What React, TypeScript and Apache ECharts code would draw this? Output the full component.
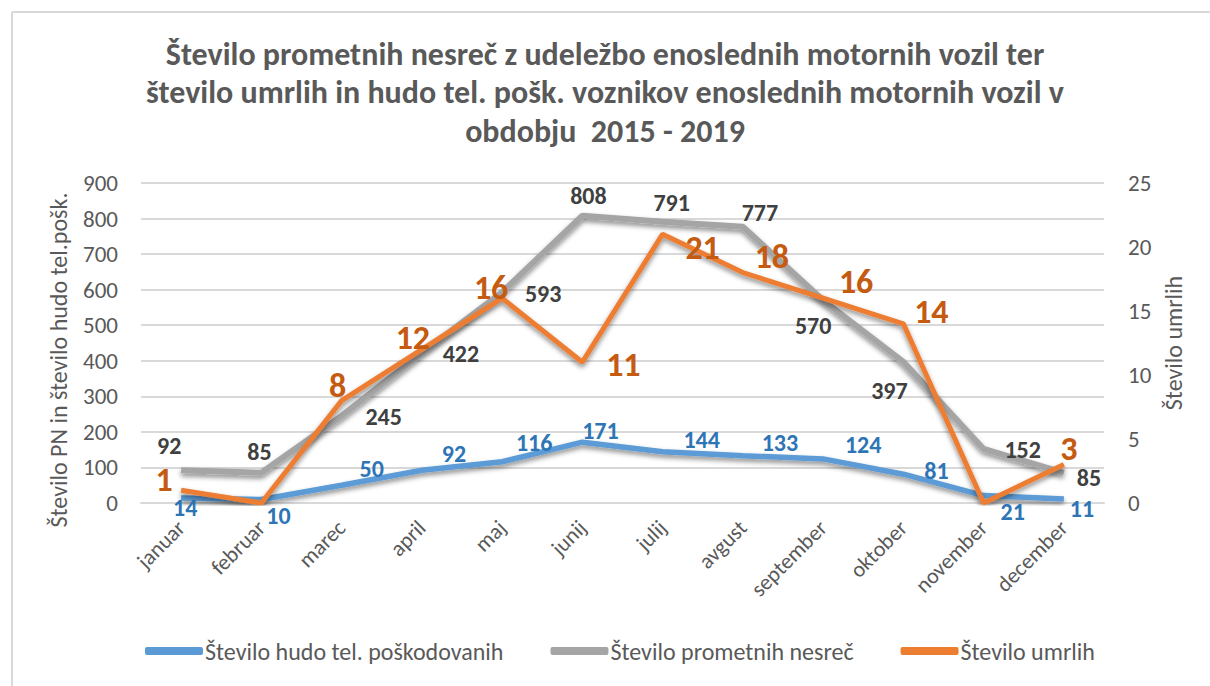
import React, { useEffect, useRef } from "react";
import * as echarts from "echarts";

const categories = ["januar", "februar", "marec", "april", "maj", "junij", "julij", "avgust", "september", "oktober", "november", "december"];
const injuredValues = [14, 10, 50, 92, 116, 171, 144, 133, 124, 81, 21, 11];
const accidentValues = [92, 85, 245, 422, 593, 808, 791, 777, 570, 397, 152, 85];
const deathValues = [1, 0, 8, 12, 16, 11, 21, 18, 16, 14, 0, 3];
const leftTicks = { min: 0, max: 900, interval: 100 };
const rightTicks = { min: 0, max: 25, interval: 5 };

const seriesNames = ["Število hudo tel. poškodovanih", "Število prometnih nesreč", "Število umrlih"];
const titleText = "Število prometnih nesreč z udeležbo enoslednih motornih vozil ter\nštevilo umrlih in hudo tel. pošk. voznikov enoslednih motornih vozil v\nobdobju  2015 - 2019";
const leftAxisName = "Število PN in število hudo tel.pošk.";
const rightAxisName = "Število umrlih";

// label offsets (dx, dy) from the point, layout only
const injuredOffsets = [[4, 9], [17, 16], [30, -17], [32, -17], [32, -19], [18, -12], [39, -12], [37, -13], [40, -14], [33, -4], [29, 16], [18, 9]];
const accidentOffsets = [[-12, -25], [-2, -21], [42, 1], [39, 1], [41, 1], [6, -20], [9, -19], [17, -14], [-10, 25], [-14, 29], [39, 1], [25, 5]];
const deathOffsets = [[-17, -11], [0, 0], [-4, -15], [-9, -12], [-11, -11], [41, 2], [40, 13], [29, -16], [33, -17], [28, -12], [0, 0], [5, -16]];

const FONT = "Carlito, 'Liberation Sans', Arial, sans-serif";

function makeData(values: number[], offsets: number[][], hideZero: boolean) {
  return values.map((v, i) => ({
    value: v,
    label: {
      show: !(hideZero && v === 0),
      position: "inside",
      offset: offsets[i],
    },
  }));
}

export default function App() {
  const ref = useRef<HTMLDivElement>(null);
  useEffect(() => {
    if (!ref.current) return;
    const chart = echarts.init(ref.current, undefined, { renderer: "svg" });
    const shadow = { shadowColor: "rgba(0,0,0,0.45)", shadowBlur: 5, shadowOffsetY: 3 };
    chart.setOption({
      animation: false,
      backgroundColor: "#ffffff",
      textStyle: { fontFamily: FONT },
      title: {
        text: titleText,
        left: "center",
        top: 30,
        textStyle: { fontFamily: FONT, fontSize: 32, fontWeight: "bold", color: "#595959", lineHeight: 38.5 },
      },
      graphic: [
        { type: "line", shape: { x1: 12, y1: 12, x2: 1210, y2: 12 }, style: { stroke: "#D9D9D9", lineWidth: 2 } },
        { type: "line", shape: { x1: 12, y1: 12, x2: 12, y2: 686 }, style: { stroke: "#D9D9D9", lineWidth: 2 } },
        {
          type: "text", x: 58, y: 360, rotation: Math.PI / 2,
          style: { text: leftAxisName, fill: "#595959", font: `24px ${FONT}`, align: "center", verticalAlign: "middle" },
        },
        {
          type: "text", x: 1173, y: 343, rotation: Math.PI / 2,
          style: { text: rightAxisName, fill: "#595959", font: `24px ${FONT}`, align: "center", verticalAlign: "middle" },
        },
      ],
      legend: {
        bottom: 18,
        left: 140,
        itemWidth: 58,
        itemHeight: 8,
        itemGap: 47,
        icon: "roundRect",
        textStyle: { fontFamily: FONT, fontSize: 24, color: "#595959", padding: [0, 0, 0, -3] },
        data: seriesNames,
      },
      grid: { left: 141, right: 106, top: 183, bottom: 183 },
      xAxis: {
        type: "category",
        data: categories,
        boundaryGap: true,
        axisLine: { show: true, lineStyle: { color: "#D9D9D9", width: 2 } },
        axisTick: { show: false },
        axisLabel: { rotate: 45, color: "#595959", fontSize: 22, fontFamily: FONT, margin: 21, interval: 0 },
      },
      yAxis: [
        {
          type: "value",
          ...leftTicks,
          axisLine: { show: false },
          axisTick: { show: false },
          splitLine: { lineStyle: { color: "#D9D9D9", width: 2 } },
          axisLabel: { color: "#595959", fontSize: 23, fontFamily: FONT, margin: 23 },
        },
        {
          type: "value",
          ...rightTicks,
          axisLine: { show: false },
          axisTick: { show: false },
          splitLine: { show: false },
          axisLabel: { color: "#595959", fontSize: 23, fontFamily: FONT, margin: 24 },
        },
      ],
      series: [
        {
          name: seriesNames[1],
          type: "line",
          yAxisIndex: 0,
          data: makeData(accidentValues, accidentOffsets, false),
          symbol: "circle",
          symbolSize: 0,
          lineStyle: { color: "#A5A5A5", width: 6, ...shadow },
          itemStyle: { color: "#A5A5A5" },
          label: { color: "#404040", fontSize: 24, fontWeight: "bold", fontFamily: FONT, lineHeight: 22 },
          z: 2,
        },
        {
          name: seriesNames[0],
          type: "line",
          yAxisIndex: 0,
          data: makeData(injuredValues, injuredOffsets, false),
          symbol: "circle",
          symbolSize: 0,
          lineStyle: { color: "#5B9BD5", width: 5.5, ...shadow },
          itemStyle: { color: "#5B9BD5" },
          label: { color: "#2E75B6", fontSize: 24, fontWeight: "bold", fontFamily: FONT, lineHeight: 22 },
          z: 3,
        },
        {
          name: seriesNames[2],
          type: "line",
          yAxisIndex: 1,
          data: makeData(deathValues, deathOffsets, true),
          symbol: "circle",
          symbolSize: 0,
          lineStyle: { color: "#ED7D31", width: 5, ...shadow },
          itemStyle: { color: "#ED7D31" },
          label: { color: "#C55A11", fontSize: 34, fontWeight: "bold", fontFamily: FONT, lineHeight: 28 },
          z: 4,
        },
      ],
    });
    return () => chart.dispose();
  }, []);
  return <div ref={ref} style={{ position: "fixed", left: 0, top: 0, width: 1210, height: 686 }} />;
}
